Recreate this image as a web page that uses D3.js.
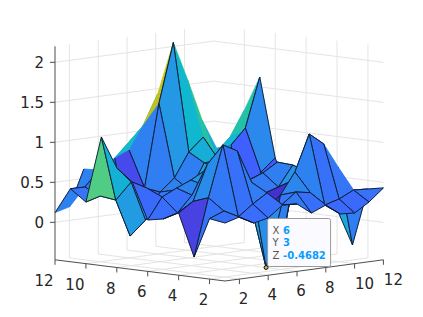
<!DOCTYPE html>
<html>
<head>
<meta charset="utf-8">
<script src="https://cdn.jsdelivr.net/npm/d3@7"></script>
<style>
    html, body { margin: 0; padding: 0; background: #fff; }
    svg { display: block; font-family: "DejaVu Sans", sans-serif; }
</style>
</head>
<body>
<svg id="chart" width="423" height="317"></svg>
<script>
// 坐标与刻度
const xValues = [1, 2, 3, 4, 5, 6, 7, 8, 9, 10, 11, 12];
const yValues = [1, 2, 3, 4, 5, 6, 7, 8, 9, 10, 11, 12];
const gridTicks = [2, 4, 6, 8, 10];
const axisTicks = [2, 4, 6, 8, 10, 12];
const zTicks = [0, 0.5, 1, 1.5, 2];
const zMin = -0.4682;
const zMax = 2.2;

// 每一行是一个 y，每一列是一个 x
const zRows = [
    [0.257, 0.308, 0.208, 0.247, 0.386, 0.374, 0.237, 0.313, 0.177, 0.165, 0.278, 0.43],
    [0.287, 0.358, 0.26, 0.398, 0.512, 0.337, 0.476, 0.443, 0.264, 0.316, 0.404, 0.393],
    [-0.217, 0.5, 1.136, 1.037, 0.62, -0.4682, 0.414, 0.677, 1.128, 0.98, 0.667, -0.33],
    [0.31, 0.43, 0.87, 0.6, 0.65, 0.3, 0.2, -0.4, 0.53, 0.6, 0.5, 0.09],
    [0.211, 0.262, 0.46, 0.55, 0.6, 0.55, 0.55, 0.36, 0.417, 0.668, 0.4, 0.3],
    [0.174, 0.437, 0.524, 0.6, 0.7, 0.7, 0.6, 0.5, 0.57, 0.68, 0.4, 0.3],
    [0.625, 0.526, 0.364, 0.452, 0.42, 0.742, 0.756, 0.5, 0.45, 0.5, -0.02, 0.135],
    [0.776, 0.577, 0.077, 0.403, 0.554, 0.854, 1.018, 0.7, 0.6, 0.05, 0.482, 0.636],
    [1.139, 0.327, -0.147, 0.43, 1.463, 2.2, 1.707, 1.18, 0.807, 0.82, 1.01, 1.623],
    [0.302, 0.353, 0.8, 0.879, 1.168, 1.54, 1.2, 0.9, 0.8, 0.7, 0.873, 1.187],
    [0.444, 0.442, 0.63, 0.7, 0.92, 1.1, 0.9, 0.7, 0.6, 0.6, 0.6, 0.7],
    [0.12, 0.168, 0.618, 0.52, 0.68, 0.78, 0.88, 0.8, 0.7, 0.6, 0.5, 0.5]
];

// 颜色表（读自图片）
const colorStops = [-0.4682, -0.24, 0, 0.3, 0.45, 0.6, 0.85, 1.0, 1.14, 1.46, 2.2];
const colorValues = ["#4129c8", "#4a3fe0", "#3f5cff", "#3674f9", "#2e82f0", "#1fa0e0", "#10b8d0", "#20c0a8", "#50cc85", "#c0c020", "#f9fb15"];

// 没有黑线的边（x, y, 方向）
const bareEdges = [
    "6,9,x", "6,9,y", "5,9,y", "7,9,x", "8,9,x", "9,9,x", "7,9,y", "8,9,y", "9,9,y",
    "7,8,y", "7,8,x", "8,8,y", "8,8,x", "9,8,y",
    "10,3,x", "11,2,y", "12,9,y", "11,9,y", "2,11,y", "1,12,x"
];

// 后排保留黑线的边
const keptEdges = ["1,10,x", "1,10,y", "2,10,y", "1,11,x", "1,11,y", "2,11,x", "2,12,x"];

// 数据提示
const tipX = 6;
const tipY = 3;
const tipZ = -0.4682;

const svg = d3.select("#chart");

const color = d3.scaleLinear().domain(colorStops).range(colorValues);

// 斜投影：每个方向一个比例尺
const xRun = d3.scaleLinear().domain([1, 12]).range([0, 158.4]);
const yRun = d3.scaleLinear().domain([1, 12]).range([0, -170]);
const xRise = d3.scaleLinear().domain([1, 12]).range([0, -21.2]);
const yRise = d3.scaleLinear().domain([1, 12]).range([0, -21.2]);
const zRise = d3.scaleLinear().domain([zMin, zMax]).range([0, -213.5]);

function project(x, y, z) {
    return [225 + xRun(x) + yRun(y), 281 + xRise(x) + yRise(y) + zRise(z)];
}

function drawLine(parent, p, q, stroke, width) {
    parent.append("line")
        .attr("x1", p[0]).attr("y1", p[1])
        .attr("x2", q[0]).attr("y2", q[1])
        .attr("stroke", stroke)
        .attr("stroke-width", width);
}

function isBare(x, y, dir) {
    const key = `${x},${y},${dir}`;
    if (keptEdges.includes(key)) return false;
    return y >= 10 || bareEdges.includes(key);
}

// 背面网格
const gridColor = "#e4e4e4";
gridTicks.forEach(t => {
    drawLine(svg, project(t, 12, zMin), project(t, 12, zMax), gridColor, 1);
    drawLine(svg, project(12, t, zMin), project(12, t, zMax), gridColor, 1);
    drawLine(svg, project(t, 1, zMin), project(t, 12, zMin), gridColor, 1);
    drawLine(svg, project(1, t, zMin), project(12, t, zMin), gridColor, 1);
});
zTicks.forEach(z => {
    drawLine(svg, project(1, 12, z), project(12, 12, z), gridColor, 1);
    drawLine(svg, project(12, 12, z), project(12, 1, z), gridColor, 1);
});

// 从后往前画每个面，保证遮挡正确
const faces = svg.append("g");
const cellPath = d3.line();
const edgeColor = "#0c1526";
for (let j = yValues.length - 2; j >= 0; j--) {
    for (let i = xValues.length - 2; i >= 0; i--) {
        const x0 = xValues[i], x1 = xValues[i + 1];
        const y0 = yValues[j], y1 = yValues[j + 1];
        const p00 = project(x0, y0, zRows[j][i]);
        const p10 = project(x1, y0, zRows[j][i + 1]);
        const p11 = project(x1, y1, zRows[j + 1][i + 1]);
        const p01 = project(x0, y1, zRows[j + 1][i]);
        const fill = color(zRows[j][i]);
        faces.append("path")
            .attr("d", cellPath([p00, p10, p11, p01]) + "Z")
            .attr("fill", fill)
            .attr("stroke", fill)
            .attr("stroke-width", 0.5)
            .attr("stroke-linejoin", "round");

        // 四条边分别判断
        if (!isBare(x0, y0, "x")) drawLine(faces, p00, p10, edgeColor, 0.9);
        if (!isBare(x0, y0, "y")) drawLine(faces, p00, p01, edgeColor, 0.9);
        if (!isBare(x0, y1, "x")) drawLine(faces, p01, p11, edgeColor, 0.9);
        if (!isBare(x1, y0, "y")) drawLine(faces, p10, p11, edgeColor, 0.9);
    }
}

// 坐标轴
const axisColor = "#4d4d4d";
const labelColor = "#262626";
drawLine(svg, project(1, 12, zMin), project(1, 12, zMax), axisColor, 1);
drawLine(svg, project(1, 12, zMin), project(1, 1, zMin), axisColor, 1);
drawLine(svg, project(1, 1, zMin), project(12, 1, zMin), axisColor, 1);

zTicks.forEach(z => {
    const p = project(1, 12, z);
    drawLine(svg, [p[0] - 5, p[1]], p, axisColor, 1);
    svg.append("text")
        .attr("x", p[0] - 11)
        .attr("y", p[1] + 5.5)
        .attr("text-anchor", "end")
        .attr("font-size", 15)
        .attr("fill", labelColor)
        .text(z);
});

axisTicks.forEach(t => {
    const py = project(1, t, zMin);
    drawLine(svg, py, [py[0], py[1] + 5], axisColor, 1);
    svg.append("text")
        .attr("x", py[0] - (t >= 10 ? 11 : 6))
        .attr("y", py[1] + 26)
        .attr("text-anchor", "middle")
        .attr("font-size", 15)
        .attr("fill", labelColor)
        .text(t);

    const px = project(t, 1, zMin);
    drawLine(svg, px, [px[0], px[1] + 5], axisColor, 1);
    svg.append("text")
        .attr("x", px[0] + (t >= 10 ? 10 : 4))
        .attr("y", px[1] + 25)
        .attr("text-anchor", "middle")
        .attr("font-size", 15)
        .attr("fill", labelColor)
        .text(t);
});

// 数据提示框
const tipPoint = project(tipX, tipY, tipZ);
const tip = svg.append("g");
tip.append("rect")
    .attr("x", tipPoint[0] + 1.5)
    .attr("y", tipPoint[1] - 49)
    .attr("width", 63)
    .attr("height", 48)
    .attr("rx", 2)
    .attr("fill", "#fbfbff")
    .attr("stroke", "#9a9a9a")
    .attr("stroke-width", 1);

const tipRows = [["X", tipX], ["Y", tipY], ["Z", tipZ]];
tipRows.forEach((row, k) => {
    const baseline = tipPoint[1] - 34 + k * 12.7;
    tip.append("text")
        .attr("x", tipPoint[0] + 6.5)
        .attr("y", baseline)
        .attr("font-size", 10)
        .attr("fill", "#555")
        .text(row[0]);
    tip.append("text")
        .attr("x", tipPoint[0] + 17)
        .attr("y", baseline)
        .attr("font-size", 10)
        .attr("font-weight", "bold")
        .attr("fill", "#0a9bff")
        .text(row[1]);
});

tip.append("circle")
    .attr("cx", tipPoint[0])
    .attr("cy", tipPoint[1])
    .attr("r", 2)
    .attr("fill", "#c9b04a")
    .attr("stroke", "#111")
    .attr("stroke-width", 1);
</script>
</body>
</html>
